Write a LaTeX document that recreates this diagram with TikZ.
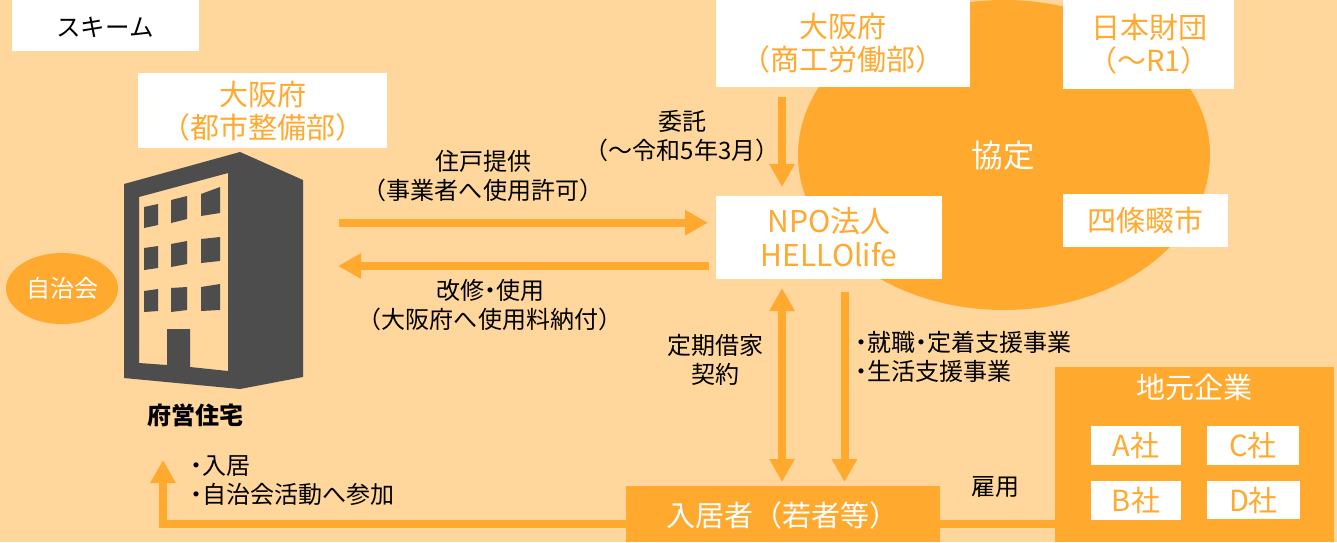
\documentclass[tikz,border=0pt]{standalone}
\usepackage{fontspec}
\usetikzlibrary{arrows.meta,shapes.geometric}
\setmainfont{Noto Sans CJK JP}
\newfontfamily\pf{Noto Sans CJK JP}[RawFeature={+palt}]
\newcommand{\nd}{{\pf ・}}
\newcommand{\nh}{{\pf へ}}
\definecolor{bgc}{HTML}{FFD69C}
\definecolor{orng}{HTML}{FFA92F}
\definecolor{bldg}{HTML}{4D4D4D}
\tikzset{
  whitebox/.style={fill=white,text=orng,inner sep=0pt,align=center,font=\fontsize{29}{33}\selectfont},
  orangebox/.style={fill=orng,text=white,inner sep=0pt,align=center,font=\fontsize{29}{33}\selectfont},
  caption/.style={text=black,inner sep=0pt,align=center,font=\fontsize{24}{29}\selectfont},
  captionleft/.style={caption,align=left,anchor=west},
  flow/.style={draw=orng,line width=8pt,-{Triangle[width=24pt,length=23pt]}},
  flowboth/.style={draw=orng,line width=8pt,{Triangle[width=24pt,length=23pt]}-{Triangle[width=24pt,length=23pt]}},
  plainline/.style={draw=orng,line width=8pt},
  dark/.style={fill=bldg,draw=none}
}
\begin{document}
\begin{tikzpicture}[x=1pt,y=-1pt]
\useasboundingbox (0,0) rectangle (1337,542);
\fill[bgc] (0,0) rectangle (1337,542);
% agreement ellipse
\node[ellipse,fill=orng,minimum width=412pt,minimum height=310pt,inner sep=0pt] (kyotei) at (1004,155) {};
\node[text=white,inner sep=0pt,font=\fontsize{31.5}{33}\selectfont] (kyoteilabel) at (1003,156) {協定};
% boxes
\node[whitebox,text=black,font=\fontsize{25}{30}\selectfont,minimum width=187pt,minimum height=51pt] (scheme) at (105.5,25.5) {};
\node[text=black,inner sep=0pt,font=\fontsize{24.5}{30}\selectfont] (schemelabel) at (105,27) {スキーム};
\node[fill=white,minimum width=249pt,minimum height=75pt,inner sep=0pt] (toshi) at (262.5,110.5) {};
\node[whitebox,fill=none] (toshilabel) at (262.5,111.5) {大阪府\\（都市整備部）};
\node[fill=white,minimum width=254pt,minimum height=87pt,inner sep=0pt] (shoko) at (843,43.5) {};
\node[whitebox,fill=none] (shokolabel) at (843,43.5) {大阪府\\（商工労働部）};
\node[fill=white,minimum width=171pt,minimum height=89pt,inner sep=0pt] (nippon) at (1148.5,44.5) {};
\node[whitebox,fill=none] (nipponlabel) at (1149,44.5) {日本財団\\（～R1）};
\node[whitebox,minimum width=165pt,minimum height=53pt] (shijo) at (1145.5,220.5) {四條畷市};
\node[whitebox,font=\fontsize{30}{34}\selectfont,minimum width=226pt,minimum height=83pt] (npo) at (829,237.5) {NPO法人\\HELLOlife};
\node[fill=orng,minimum width=314pt,minimum height=56pt,inner sep=0pt] (tenant) at (783,514) {};
\node[orangebox,fill=none] (tenantlabel) at (782,515.5) {入居者（若者等）};
\node[fill=orng,minimum width=279pt,minimum height=175pt,inner sep=0pt] (local) at (1194.5,454.5) {};
\node[text=white,inner sep=0pt,font=\fontsize{29}{33}\selectfont] (locallabel) at (1194,387) {地元企業};
\node[whitebox,minimum width=90pt,minimum height=39pt] (a) at (1136,445.5) {A社};
\node[whitebox,minimum width=92pt,minimum height=39pt] (c) at (1253,445.5) {C社};
\node[whitebox,minimum width=90pt,minimum height=39pt] (b) at (1136,500.5) {B社};
\node[whitebox,minimum width=93pt,minimum height=38pt] (d) at (1253.5,500) {D社};
\node[fill=orng,ellipse,minimum width=112pt,minimum height=71pt,inner sep=0pt,text=white,font=\fontsize{24}{29}\selectfont] (jichi) at (62,288.5) {自治会};
% building
\fill[dark,even odd rule] (124,184) -- (240,152) -- (303,180) -- (303,377) -- (240,389) -- (124,378) -- cycle
  (139,197) -- (228,173) -- (228,371) -- (190,367) -- (190,329) -- (167,329) -- (167,365) -- (139,363) -- cycle;
\fill[dark] (144,207) -- (158,204) -- (158,225) -- (144,228) -- cycle;
\fill[dark] (171,200) -- (187,196) -- (187,219) -- (171,223) -- cycle;
\fill[dark] (201,194) -- (220,187) -- (220,213) -- (201,216) -- cycle;
\fill[dark] (144,248) -- (158,246) -- (158,268) -- (144,270) -- cycle;
\fill[dark] (171,244) -- (187,241) -- (187,264) -- (171,267) -- cycle;
\fill[dark] (201,239) -- (220,237) -- (220,261) -- (201,263) -- cycle;
\fill[dark] (144,291) -- (158,289) -- (158,311) -- (144,312) -- cycle;
\fill[dark] (171,288) -- (187,287) -- (187,310) -- (171,312) -- cycle;
\fill[dark] (201,287) -- (220,284) -- (220,310) -- (201,311) -- cycle;
\node[caption,font=\fontsize{24}{28}\selectfont\bfseries] (fuei) at (195.5,415) {府営住宅};
% connector end points
\coordinate (e1) at (339,222.7);
\coordinate (e2) at (708,222.7);
\coordinate (e3) at (709,266);
\coordinate (e4) at (338,266);
\coordinate (e5) at (782,97);
\coordinate (e6) at (782,187);
\coordinate (e7) at (782,288);
\coordinate (e8) at (782,482);
\coordinate (e9) at (844.5,292);
\coordinate (e10) at (844.5,482);
\coordinate (e11) at (163,460);
\coordinate (e12) at (626,523.7);
\coordinate (e13) at (163,523.7);
\coordinate (e14) at (940,523.7);
\coordinate (e15) at (1055,523.7);
% connectors
\draw[flow] (e1) -- (e2);
\draw[flow] (e3) -- (e4);
\draw[flow] (e5) -- (e6);
\draw[flowboth] (e7) -- (e8);
\draw[flow] (e9) -- (e10);
\draw[flow] (e12) -- (e13) -- (e11);
\draw[plainline] (e14) -- (e15);
% labels
\node[caption] (l1) at (483,176.5) {住戸提供\\（事業者\nh 使用許可）};
\node[caption] (l2) at (682,136) {委託\\（～令和5年3月）};
\node[caption] (l3) at (490,305.5) {改修\nd 使用\\（大阪府\nh 使用料納付）};
\node[caption] (l4) at (715,359.5) {定期借家\\契約};
\node[captionleft] (l5) at (855,356.5) {\nd 就職\nd 定着支援事業\\\nd 生活支援事業};
\node[caption] (l6) at (995,487.5) {雇用};
\node[captionleft] (l7) at (190,480.5) {\nd 入居\\\nd 自治会活動\nh 参加};
\end{tikzpicture}
\end{document}
